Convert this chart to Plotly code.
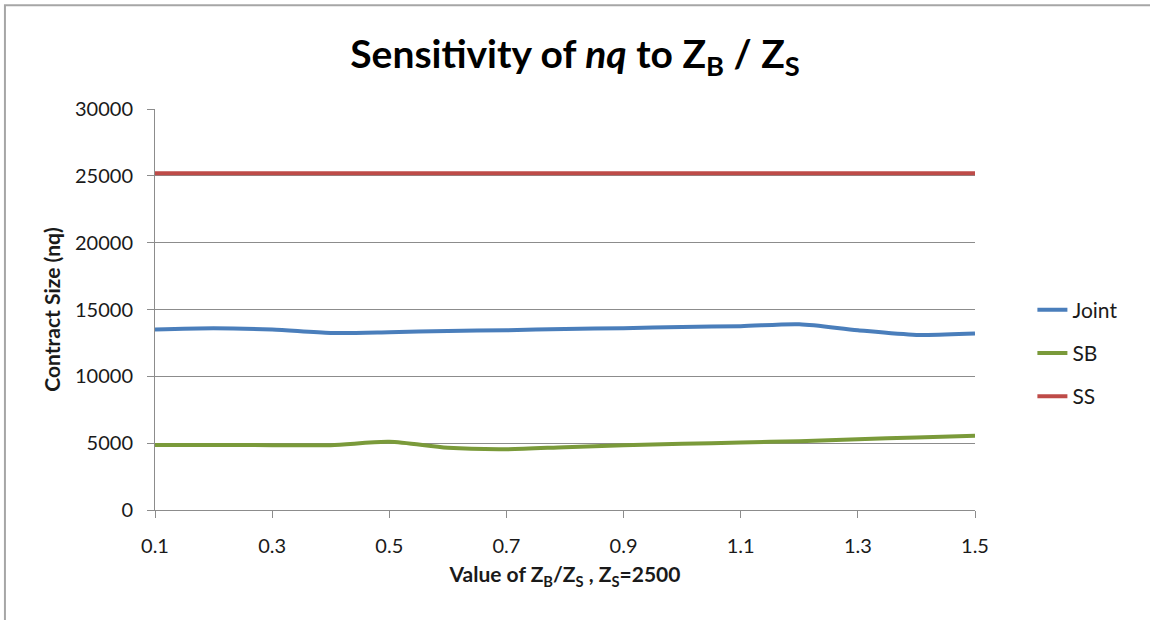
import plotly.graph_objects as go

x_vals = [0.1, 0.2, 0.3, 0.4, 0.5, 0.6, 0.7, 0.8, 0.9, 1.0, 1.1, 1.2, 1.3, 1.4, 1.5]
joint = [13500, 13600, 13500, 13250, 13300, 13400, 13450, 13550, 13600, 13700, 13750, 13900, 13450, 13100, 13200]
sb = [4870, 4870, 4850, 4850, 5100, 4650, 4550, 4700, 4850, 4950, 5050, 5150, 5300, 5420, 5560]
ss = [25200] * 15

series = [("Joint", joint, "#4A7EBB"), ("SB", sb, "#7A9A3A"), ("SS", ss, "#BE4B48")]
x_ticks = [0.1, 0.3, 0.5, 0.7, 0.9, 1.1, 1.3, 1.5]
y_ticks = [0, 5000, 10000, 15000, 20000, 25000, 30000]

FONT = "Lato"
TXT = "#1a1a1a"
fig = go.Figure()
for name, vals, col in series:
    fig.add_trace(go.Scatter(x=x_vals, y=vals, name=name, mode="lines",
                             line=dict(color=col, width=4, shape="spline", smoothing=0.8),
                             legendgroup=name))

grid = "#8C8C8C"
fig.update_layout(
    width=1150, height=620,
    margin=dict(l=155, r=175, t=109, b=110),
    paper_bgcolor="white", plot_bgcolor="white",
    font=dict(family=FONT, color="#000000"),
    title=dict(text="<b>Sensitivity of <i>nq</i> to Z<sub>B</sub> / Z<sub>S</sub></b>",
               x=0.5, xanchor="center", y=0.912, yanchor="middle",
               font=dict(family=FONT, size=39, color="black")),
    xaxis=dict(range=[0.1, 1.5], tickvals=x_ticks, ticktext=[f"{v:.1f}" for v in x_ticks],
               showgrid=False, showline=True, linecolor=grid, linewidth=1,
               ticks="outside", ticklen=7, tickcolor=grid, ticklabelstandoff=11,
               tickfont=dict(family=FONT, size=20, color=TXT),
               title=dict(text="<b>Value of Z<sub>B</sub>/Z<sub>S</sub> , Z<sub>S</sub>=2500</b>",
                          font=dict(family=FONT, size=21, color=TXT), standoff=11),
               zeroline=False),
    yaxis=dict(range=[0, 30000], tickvals=y_ticks, ticktext=[str(v) for v in y_ticks],
               showgrid=True, gridcolor=grid, gridwidth=1,
               showline=True, linecolor=grid, linewidth=1,
               ticks="outside", ticklen=7, tickcolor=grid, ticklabelstandoff=10,
               tickfont=dict(family=FONT, size=20, color=TXT),
               title=dict(text="<b>Contract Size (nq)</b>",
                          font=dict(family=FONT, size=21, color=TXT), standoff=8),
               zeroline=False),
    legend=dict(x=1.07, xanchor="left", y=0.3915, yanchor="middle",
                font=dict(family=FONT, size=21, color=TXT),
                tracegroupgap=13, bgcolor="rgba(0,0,0,0)"),
    shapes=[dict(type="rect", xref="paper", yref="paper",
                 x0=-0.183, x1=1.23, y0=-0.3, y1=1.259,
                 line=dict(color="#A6A6A6", width=2), fillcolor="rgba(0,0,0,0)", layer="below")],
)

fig.write_html("out.html")
